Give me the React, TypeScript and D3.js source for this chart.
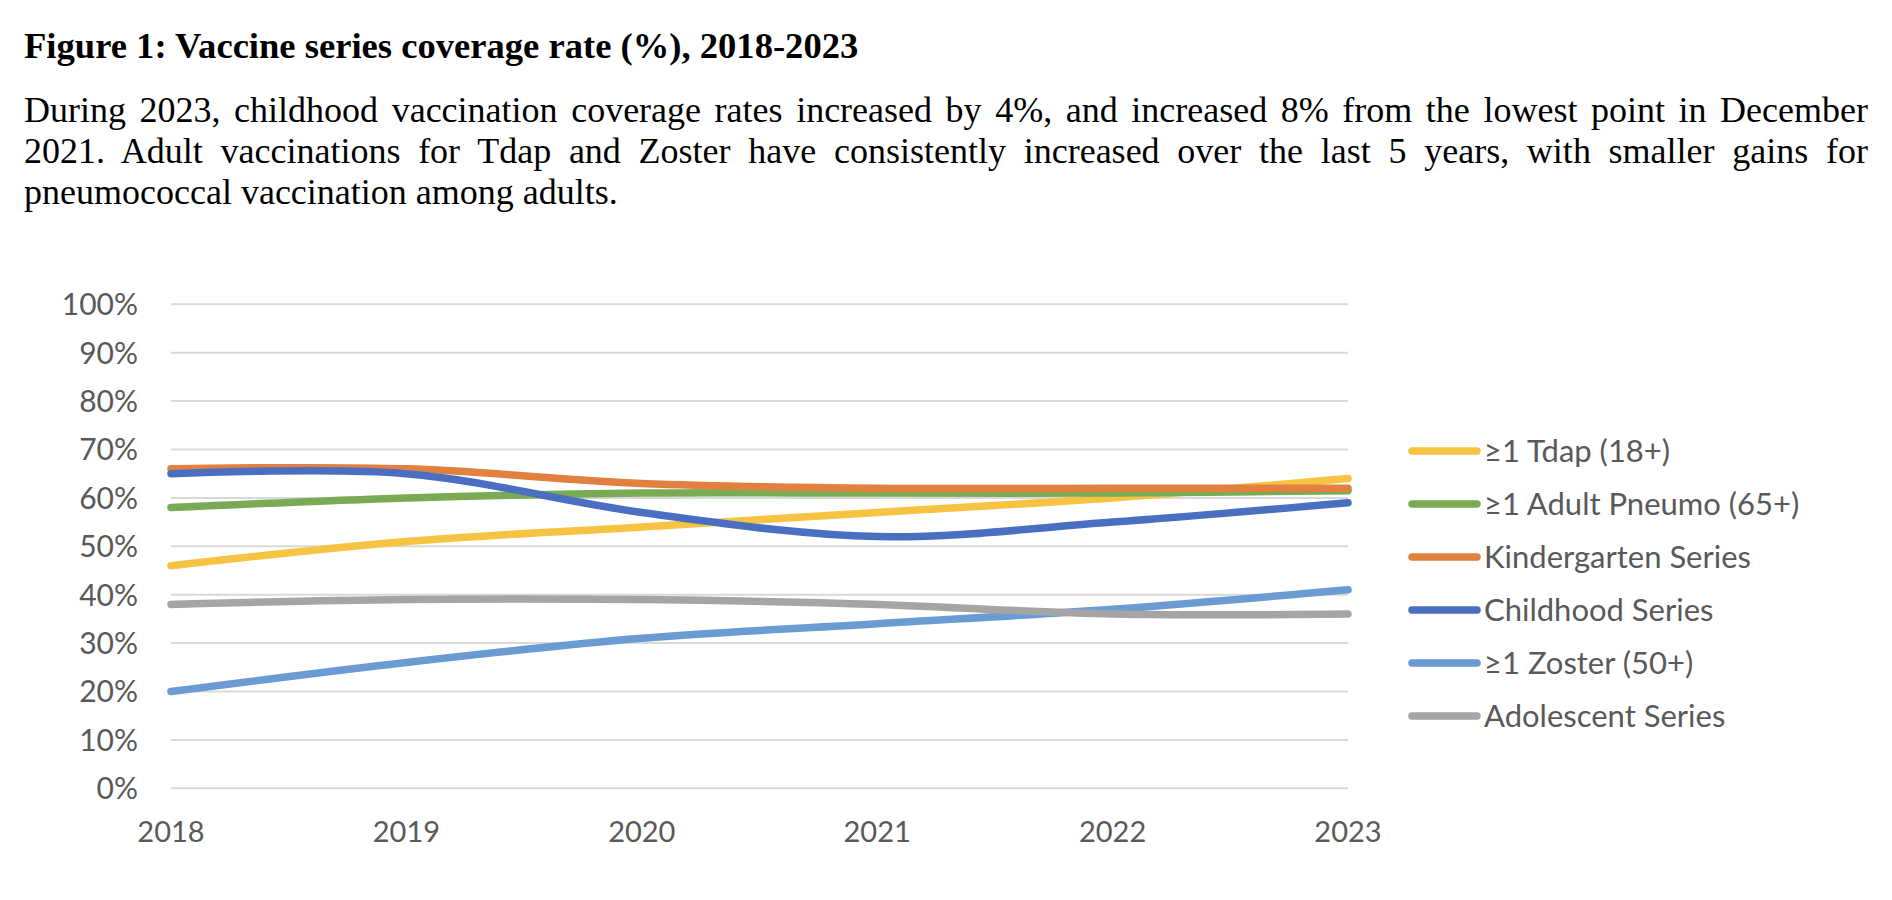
import React, { useEffect, useRef } from 'react';
import * as d3 from 'd3';

const years = ['2018', '2019', '2020', '2021', '2022', '2023'];

const tdap = [0.46, 0.51, 0.54, 0.57, 0.60, 0.64];
const pneumo = [0.58, 0.60, 0.61, 0.61, 0.61, 0.615];
const kindergarten = [0.66, 0.66, 0.63, 0.62, 0.62, 0.62];
const childhood = [0.65, 0.65, 0.57, 0.52, 0.55, 0.59];
const zoster = [0.20, 0.26, 0.31, 0.34, 0.37, 0.41];
const adolescent = [0.38, 0.39, 0.39, 0.38, 0.36, 0.36];

const seriesNames = [
    '≥1 Tdap (18+)',
    '≥1 Adult Pneumo (65+)',
    'Kindergarten Series',
    'Childhood Series',
    '≥1 Zoster (50+)',
    'Adolescent Series',
];
const seriesValues = [tdap, pneumo, kindergarten, childhood, zoster, adolescent];
const seriesColors = ['#F6C342', '#7BAA55', '#E1803F', '#4A6FC1', '#6A9BD3', '#A5A5A5'];

const yTicks = [0, 0.1, 0.2, 0.3, 0.4, 0.5, 0.6, 0.7, 0.8, 0.9, 1.0];

const title = 'Figure 1: Vaccine series coverage rate (%), 2018-2023';
const paragraph = [
    'During 2023, childhood vaccination coverage rates increased by 4%, and increased 8% from the lowest point in December',
    '2021. Adult vaccinations for Tdap and Zoster have consistently increased over the last 5 years, with smaller gains for',
    'pneumococcal vaccination among adults.',
];

export default function App() {
    const svgRef = useRef<SVGSVGElement>(null);

    useEffect(() => {
        if (!svgRef.current) return;
        document.body.style.margin = '0';

        const width = 1892;
        const height = 900;
        const svg = d3.select(svgRef.current)
            .attr('width', width)
            .attr('height', height)
            .attr('viewBox', `0 0 ${width} ${height}`);

        svg.selectAll('*').remove();

        const serif = '"Liberation Serif", "Times New Roman", serif';
        const sans = 'Lato, Carlito, Calibri, sans-serif';
        const textLeft = 24;
        const textRight = 1868;

        // Title + paragraph
        svg.append('text')
            .attr('x', textLeft)
            .attr('y', 58)
            .attr('font-family', serif)
            .attr('font-weight', 'bold')
            .attr('font-size', 36.6)
            .attr('fill', '#000')
            .text(title);

        paragraph.forEach((line, i) => {
            const t = svg.append('text')
                .attr('x', textLeft)
                .attr('y', 122 + i * 41)
                .attr('font-family', serif)
                .attr('font-size', 36)
                .attr('fill', '#000')
                .text(line);
            // justify all but the last line
            if (i < paragraph.length - 1) {
                const natural = (t.node() as SVGTextElement).getComputedTextLength();
                const gaps = line.split(' ').length - 1;
                t.attr('word-spacing', Math.max(0, (textRight - textLeft - natural) / gaps));
            }
        });

        // Chart
        const x = d3.scalePoint<string>().domain(years).range([171, 1348]);
        const y = d3.scaleLinear().domain([0, 1]).range([788.3, 304.3]);

        svg.append('g')
            .selectAll('line')
            .data(yTicks)
            .enter()
            .append('line')
            .attr('x1', x('2018')!)
            .attr('x2', x('2023')!)
            .attr('y1', d => y(d))
            .attr('y2', d => y(d))
            .attr('stroke', '#D9D9D9')
            .attr('stroke-width', 2);

        svg.append('g')
            .selectAll('text')
            .data(yTicks)
            .enter()
            .append('text')
            .attr('x', 138)
            .attr('y', d => y(d))
            .attr('dy', '0.36em')
            .attr('text-anchor', 'end')
            .attr('font-family', sans)
            .attr('font-size', 30)
            .attr('fill', '#595959')
            .text(d => d3.format('.0%')(d));

        svg.append('g')
            .selectAll('text')
            .data(years)
            .enter()
            .append('text')
            .attr('x', d => x(d)!)
            .attr('y', 832)
            .attr('dy', '0.36em')
            .attr('text-anchor', 'middle')
            .attr('font-family', sans)
            .attr('font-size', 29)
            .attr('fill', '#595959')
            .text(d => d);

        const line = d3.line<number>()
            .x((_, i) => x(years[i])!)
            .y(d => y(d))
            .curve(d3.curveCardinal.tension(0));

        svg.append('g')
            .selectAll('path')
            .data(seriesValues)
            .enter()
            .append('path')
            .attr('d', d => line(d))
            .attr('fill', 'none')
            .attr('stroke', (_, i) => seriesColors[i])
            .attr('stroke-width', 7.5)
            .attr('stroke-linecap', 'round');

        // Legend
        const legend = svg.append('g');
        seriesNames.forEach((name, i) => {
            const ly = 451 + i * 53;
            legend.append('line')
                .attr('x1', 1412)
                .attr('x2', 1477)
                .attr('y1', ly)
                .attr('y2', ly)
                .attr('stroke', seriesColors[i])
                .attr('stroke-width', 7.5)
                .attr('stroke-linecap', 'round');
            legend.append('text')
                .attr('x', 1484)
                .attr('y', ly)
                .attr('dy', '0.36em')
                .attr('font-family', sans)
                .attr('font-size', 31)
                .attr('fill', '#595959')
                .text(name);
        });
    }, []);

    return <svg ref={svgRef} style={{ display: 'block', background: '#fff' }} />;
}
